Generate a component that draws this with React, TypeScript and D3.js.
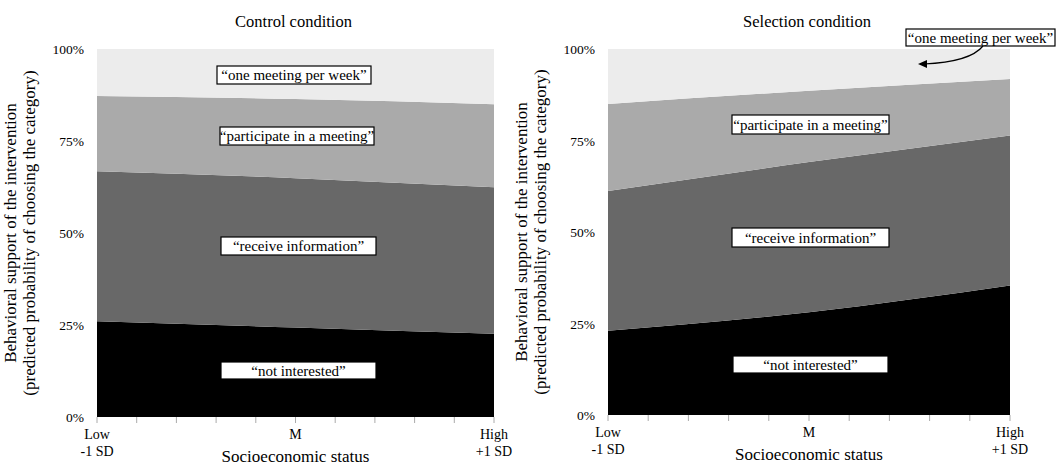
import React from "react";
import * as d3 from "d3";

const sesLevels = [-1, 0, 1];
const sesTickLabels = [["Low", "-1 SD"], ["M", ""], ["High", "+1 SD"]];
const categories = ["not interested", "receive information", "participate in a meeting", "one meeting per week"];
const categoryColors = ["#000000", "#686868", "#aaaaaa", "#ececec"];
const yTicks = [0, 0.25, 0.5, 0.75, 1];

// probability of each category at Low, M, High SES
const controlNotInterested = [0.26, 0.243, 0.226];
const controlReceiveInfo = [0.408, 0.406, 0.398];
const controlParticipate = [0.204, 0.215, 0.226];
const controlOneMeeting = [0.128, 0.136, 0.15];

const selectionNotInterested = [0.23, 0.281, 0.354];
const selectionReceiveInfo = [0.382, 0.41, 0.41];
const selectionParticipate = [0.238, 0.195, 0.154];
const selectionOneMeeting = [0.15, 0.114, 0.082];

const panels = [
  {
    title: "Control condition",
    series: [controlNotInterested, controlReceiveInfo, controlParticipate, controlOneMeeting],
    x0: 97, x1: 494, y0: 49, y1: 417,
    boxes: [
      { x: 221, y: 362, w: 155, h: 17 },
      { x: 221, y: 237, w: 155, h: 18 },
      { x: 220, y: 127, w: 154, h: 18 },
      { x: 217, y: 66, w: 154, h: 18 },
    ],
    arrow: null as null | number[],
  },
  {
    title: "Selection condition",
    series: [selectionNotInterested, selectionReceiveInfo, selectionParticipate, selectionOneMeeting],
    x0: 608, x1: 1010, y0: 49, y1: 415,
    boxes: [
      { x: 733, y: 356, w: 155, h: 17 },
      { x: 732, y: 228, w: 157, h: 19 },
      { x: 732, y: 115, w: 157, h: 19 },
      { x: 906, y: 29, w: 149, h: 17 },
    ],
    arrow: [983, 46, 970, 62, 918, 64],
  },
];

const FONT = '"Liberation Serif", "DejaVu Serif", "Times New Roman", Times, serif';
const ts = { fontFamily: FONT };

function Panel({ p }: { p: (typeof panels)[number] }) {
  const x = d3.scaleLinear().domain([-1, 1]).range([p.x0, p.x1]);
  const y = d3.scaleLinear().domain([0, 1]).range([p.y1, p.y0]);
  const rows = sesLevels.map((s, i) => {
    const r: any = { ses: s };
    categories.forEach((c, k) => (r[c] = p.series[k][i]));
    return r;
  });
  const stacked = d3.stack().keys(categories)(rows);
  const area = d3
    .area<any>()
    .x((d) => x(d.data.ses))
    .y0((d) => y(d[0]))
    .y1((d) => y(Math.min(1, d[1])))
    .curve(d3.curveMonotoneX);
  const minor = d3.range(-1, 1.0001, 0.2);
  const cx = (p.x0 + p.x1) / 2;
  const cy = (p.y0 + p.y1) / 2;
  return (
    <g fill="#000">
      <text x={cx - 2} y={27} fontSize={16.5} textAnchor="middle" style={ts}>{p.title}</text>
      {stacked.map((s, k) => (
        <path key={k} d={area(s as any) || ""} fill={categoryColors[k]} stroke="none" />
      ))}
      {minor.map((t, i) => (
        <line key={i} x1={x(t)} x2={x(t)} y1={p.y1} y2={p.y1 + 6} stroke="#aaa" strokeWidth={1} />
      ))}
      {yTicks.map((t) => (
        <text key={t} x={p.x0 - 13} y={y(t) + 5} fontSize={13.5} textAnchor="end" style={ts}>
          {d3.format(".0%")(t)}
        </text>
      ))}
      {sesLevels.map((s, i) => (
        <g key={s}>
          <text x={x(s)} y={p.y1 + 22} fontSize={14} textAnchor="middle" style={ts}>{sesTickLabels[i][0]}</text>
          {sesTickLabels[i][1] && (
            <text x={x(s)} y={p.y1 + 39} fontSize={14} textAnchor="middle" style={ts}>{sesTickLabels[i][1]}</text>
          )}
        </g>
      ))}
      <text x={cx} y={p.y1 + 45} fontSize={17} textAnchor="middle" style={ts}>Socioeconomic status</text>
      <text transform={`translate(${p.x0 - 81},${cy}) rotate(-90)`} fontSize={17} textAnchor="middle" style={ts}>
        Behavioral support of the intervention
      </text>
      <text transform={`translate(${p.x0 - 62},${cy}) rotate(-90)`} fontSize={17} textAnchor="middle" style={ts}>
        (predicted probability of choosing the category)
      </text>
      {p.boxes.map((b, k) => (
        <g key={k}>
          <rect x={b.x} y={b.y} width={b.w} height={b.h} fill="#fff" stroke="#000" strokeWidth={1.2} />
          <text x={b.x + b.w / 2} y={b.y + b.h / 2 + 5} fontSize={15} textAnchor="middle" style={ts}>
            {"\u201c" + categories[k] + "\u201d"}
          </text>
        </g>
      ))}
      {p.arrow && (
        <g>
          <path
            d={`M${p.arrow[0]},${p.arrow[1]} Q${p.arrow[2]},${p.arrow[3]} ${p.arrow[4] + 6},${p.arrow[5]}`}
            fill="none"
            stroke="#000"
            strokeWidth={1.2}
          />
          <path d={`M${p.arrow[4]},${p.arrow[5]} l9,-4 l0,8 z`} fill="#000" />
        </g>
      )}
    </g>
  );
}

export default function App() {
  return (
    <svg
      width={1056}
      height={466}
      style={{ position: "absolute", left: 0, top: 0, background: "#fff" }}
    >
      <rect width={1056} height={466} fill="#fff" />
      {panels.map((p) => (
        <Panel key={p.title} p={p} />
      ))}
    </svg>
  );
}
